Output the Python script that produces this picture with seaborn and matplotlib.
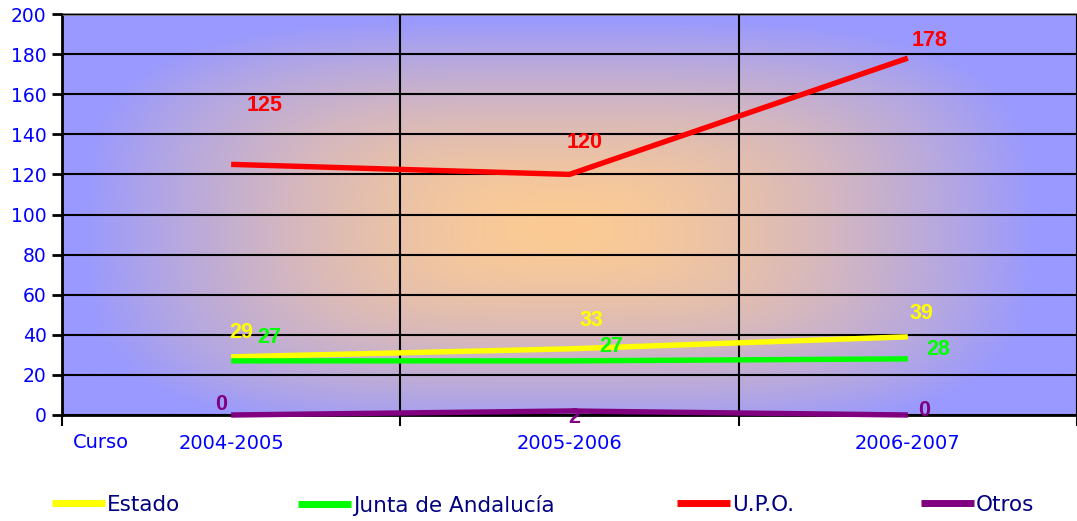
import matplotlib
matplotlib.use('Agg')
import matplotlib.pyplot as plt
import seaborn as sns
import pandas as pd
import numpy as np
from matplotlib.lines import Line2D
from matplotlib.colors import to_rgb

# datos
cursos = ['2004-2005', '2005-2006', '2006-2007']
series = ['Estado', 'Junta de Andalucía', 'U.P.O.', 'Otros']
estado = [29, 33, 39]
junta = [27, 27, 28]
upo = [125, 120, 178]
otros = [0, 2, 0]
colores = ['#ffff00', '#00ff00', '#ff0000', '#800080']
y_ticks = [0, 20, 40, 60, 80, 100, 120, 140, 160, 180, 200]

df = pd.DataFrame({
    'curso': cursos * 4,
    'serie': np.repeat(series, 3),
    'valor': estado + junta + upo + otros,
})

sns.set_style('white')
plt.rcParams['font.family'] = ['DejaVu Sans']

fig = plt.figure(figsize=(10.77, 5.21), dpi=100)
ax = fig.add_axes([62 / 1077, 106 / 521, 1 - 62 / 1077, 401 / 521])

# fondo degradado desde el centro (tipo rectangular suavizado)
h, w = 300, 600
yy, xx = np.mgrid[0:1:h * 1j, 0:1:w * 1j]
p = 3.5
r = (np.abs((xx - 0.49) / 0.47) ** p + np.abs((yy - 0.47) / 0.52) ** p) ** (1 / p)
t = (np.clip(r, 0, 1) ** 1.6)[..., None]
c_centro = np.array(to_rgb('#fccb94'))
c_borde = np.array(to_rgb('#9999ff'))
img = c_centro * (1 - t) + c_borde * t
ax.imshow(img, extent=(0, 1, 0, 1), transform=ax.transAxes, aspect='auto',
          origin='lower', zorder=0, interpolation='bilinear')

sns.lineplot(data=df, x='curso', y='valor', hue='serie', palette=colores,
             hue_order=series, sort=False, linewidth=3.9, legend=False, ax=ax,
             clip_on=False, zorder=3, solid_capstyle='butt')

ax.set_xlim(-0.5, 2.5)
ax.set_ylim(0, 200)
ax.set_yticks(y_ticks)
ax.set_xticks([0, 1, 2])
ax.set_xticklabels(cursos)
ax.set_xticks([-0.5, 0.5, 1.5, 2.5], minor=True)
ax.set_xlabel('')
ax.set_ylabel('')

ax.grid(True, axis='y', which='major', color='black', linewidth=1.5)
ax.grid(True, axis='x', which='minor', color='black', linewidth=1.5)
ax.grid(False, axis='x', which='major')
ax.set_axisbelow(False)

ax.tick_params(axis='y', which='major', length=7, width=2, color='black',
               labelcolor='#0000ff', labelsize=13.5, pad=4, left=True)
ax.tick_params(axis='x', which='major', length=0, labelcolor='#0000ff',
               labelsize=14, pad=14)
ax.tick_params(axis='x', which='minor', length=8, width=1.5, color='black',
               bottom=True)

for s in ['left', 'bottom']:
    ax.spines[s].set_color('black')
    ax.spines[s].set_linewidth(2)
ax.spines['top'].set_color('#808080')
ax.spines['top'].set_linewidth(2)
ax.spines['right'].set_visible(False)

# etiquetas de datos
desplaz = {
    'Estado': [(10, 24), (22, 28), (14, 23)],
    'Junta de Andalucía': [(38, 23), (42, 14), (30, 9)],
    'U.P.O.': [(33, 59), (15, 32), (22, 18)],
    'Otros': [(-10, 10), (5, -7), (16, 5)],
}
valores = {'Estado': estado, 'Junta de Andalucía': junta, 'U.P.O.': upo, 'Otros': otros}
for serie, col in zip(series, colores):
    for i, v in enumerate(valores[serie]):
        dx, dy = desplaz[serie][i]
        ax.annotate(str(v), (i, v), xytext=(dx, dy), textcoords='offset pixels',
                    ha='center', va='center', color=col, fontsize=15.5,
                    fontweight='bold', family=['Liberation Sans', 'DejaVu Sans'],
                    zorder=5, annotation_clip=False)

fig.text(101 / 1077, 1 - 443 / 521, 'Curso', color='#0000ff', fontsize=14,
         ha='center', va='center')

# leyenda
pos_x = [52, 298, 677, 921]
for serie, col, px in zip(series, colores, pos_x):
    fig.legend(handles=[Line2D([], [], color=col, linewidth=5, solid_capstyle='butt')],
               labels=[serie],
               loc='center left', bbox_to_anchor=(px / 1077, 1 - 505 / 521),
               frameon=False, fontsize=15.5, handlelength=2.45, handletextpad=0.1,
               borderpad=0, borderaxespad=0, labelcolor='#000080')

fig.savefig('out.png', dpi=100)
